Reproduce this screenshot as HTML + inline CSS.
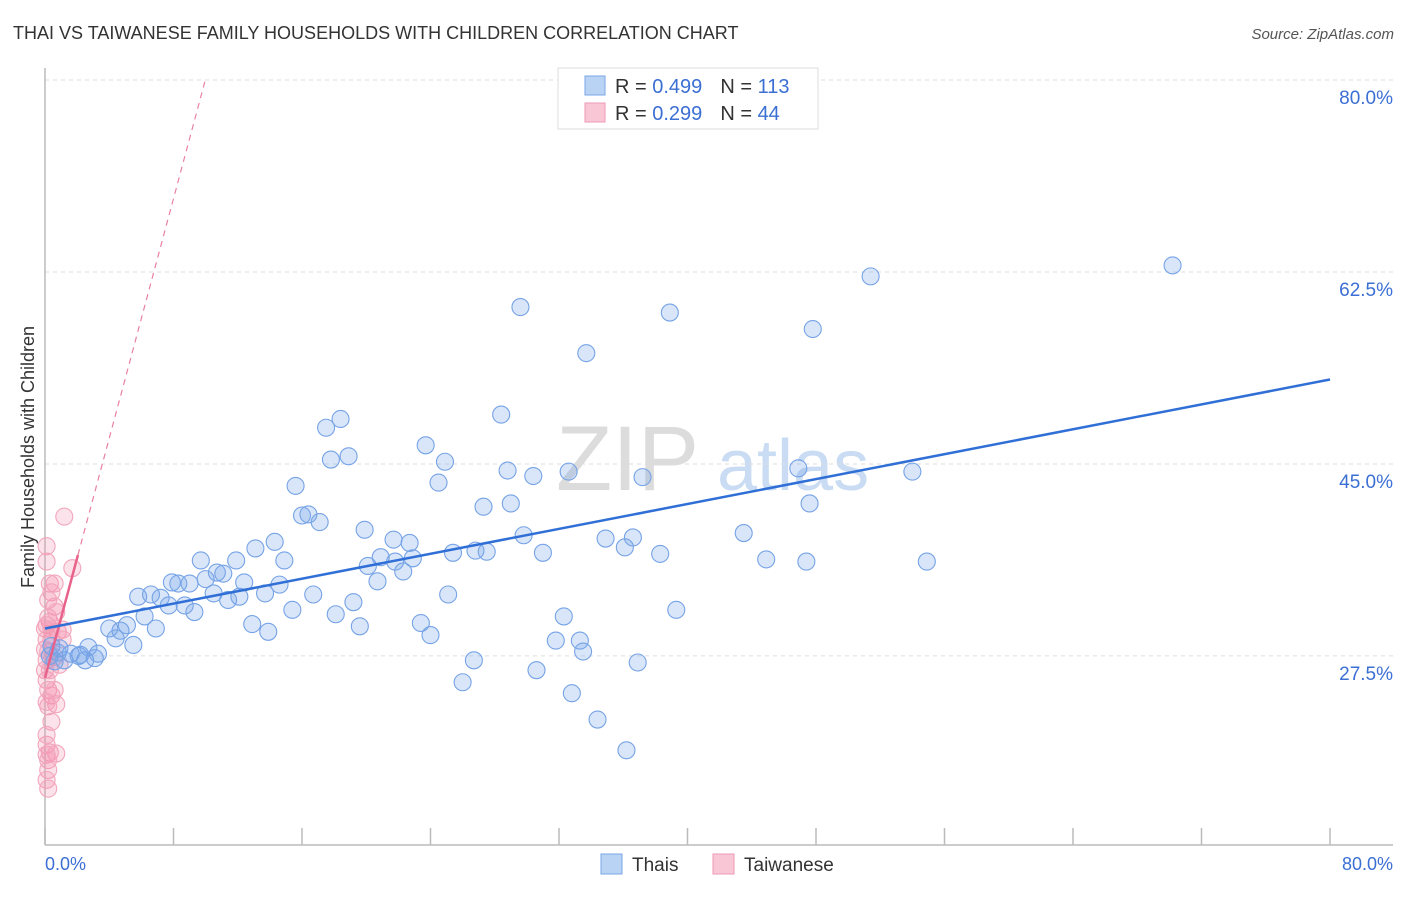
<!DOCTYPE html>
<html><head><meta charset="utf-8"><style>
body{margin:0;background:#fff;font-family:"Liberation Sans",sans-serif}
svg text{font-family:"Liberation Sans",sans-serif}
</style></head><body>
<svg id="chart" width="1406" height="892" viewBox="0 0 1406 892" xmlns="http://www.w3.org/2000/svg">
<text x="13" y="39" font-size="18" fill="#333">THAI VS TAIWANESE FAMILY HOUSEHOLDS WITH CHILDREN CORRELATION CHART</text>
<text x="1394" y="39" font-size="15" fill="#555" text-anchor="end" font-style="italic">Source: ZipAtlas.com</text>
<g>
<text x="556" y="490" font-size="92" fill="#dcdcdc" font-family="Liberation Serif">ZIP</text>
<text x="717" y="490" font-size="72" fill="#c9dcf3">atlas</text>
</g>
<g id="grid"></g>
<g id="yticks"></g>
<g id="xaxis"></g>
<line x1="45" y1="68" x2="45" y2="845" stroke="#bbb" stroke-width="1.5"/>
<text transform="translate(34,457) rotate(-90)" font-size="18" fill="#333" text-anchor="middle">Family Households with Children</text>
<g id="pinkPts"></g>
<g id="bluePts"></g>
<g id="trends"></g>
<g>
<rect x="558" y="68" width="260" height="61" fill="#fff" stroke="#ddd"/>
<rect x="585" y="76" width="20" height="19" fill="#b9d3f5" stroke="#7aa6e6"/>
<rect x="585" y="103" width="20" height="19" fill="#f9c6d5" stroke="#ee9ab4"/>
<text x="615" y="93" font-size="20" fill="#333">R = <tspan fill="#3b6fd4">0.499</tspan><tspan dx="18">N = </tspan><tspan fill="#3b6fd4">113</tspan></text>
<text x="615" y="120" font-size="20" fill="#333">R = <tspan fill="#3b6fd4">0.299</tspan><tspan dx="18">N = </tspan><tspan fill="#3b6fd4"> 44</tspan></text>
</g>
<g>
<rect x="601" y="854" width="21" height="20" fill="#b9d3f5" stroke="#7aa6e6"/>
<text x="632" y="871" font-size="19" fill="#333">Thais</text>
<rect x="713" y="854" width="21" height="20" fill="#f9c6d5" stroke="#ee9ab4"/>
<text x="744" y="871" font-size="19" fill="#333">Taiwanese</text>
</g>
</svg>
<script>
const yTicks=[80,62.5,45,27.5];
const yTickLabels=["80.0%","62.5%","45.0%","27.5%"];
const xTicks=[0,8,16,24,32,40,48,56,64,72,80];
const blueX=[70.2,51.4,29.6,38.9,47.8,33.7,28.4,18.4,17.5,23.7,18.9,17.8,24.9,28.8,30.4,32.6,37.2,46.9,54.0,24.5,15.6,27.3,29.0,47.6,16.0,16.4,17.1,19.9,29.8,43.5,21.7,34.9,36.6,22.7,36.1,26.8,27.5,25.4,31.0,38.3,13.1,14.3,9.7,11.9,14.9,20.9,20.1,21.8,22.9,22.3,44.9,47.4,54.9,10.7,11.1,12.4,8.3,7.9,9.0,10.0,14.6,20.7,5.8,6.6,7.2,7.7,8.7,9.3,10.5,11.4,12.1,13.7,16.7,19.2,25.1,15.4,18.1,32.3,39.3,6.2,5.1,4.0,4.7,4.4,6.9,12.9,13.9,19.6,23.4,24.0,31.8,33.3,33.5,5.5,2.7,3.1,2.1,1.2,0.8,0.6,1.6,2.2,3.3,26.7,30.6,36.9,26.0,32.8,34.4,36.2,0.3,0.9,0.4,2.5];
const blueY=[63.1,62.1,59.3,58.8,57.3,55.1,49.5,49.1,48.3,46.7,45.7,45.4,45.2,44.4,43.9,44.3,43.8,44.6,44.3,43.3,43.0,41.1,41.4,41.4,40.3,40.4,39.7,39.0,38.5,38.7,38.1,38.2,38.3,37.8,37.4,37.1,37.0,36.9,36.9,36.8,37.3,37.9,36.2,36.2,36.2,36.5,35.7,36.1,36.4,35.2,36.3,36.1,36.1,35.1,35.0,34.2,34.1,34.2,34.1,34.5,34.0,34.3,32.9,33.1,32.8,32.1,32.1,31.5,33.2,32.6,32.9,33.2,33.1,32.4,33.1,31.7,31.3,31.1,31.7,31.1,30.3,30.0,29.8,29.1,30.0,30.4,29.7,30.2,30.5,29.4,28.9,28.9,27.9,28.5,28.3,27.3,27.5,27.1,27.8,27.0,27.7,27.6,27.7,27.1,26.2,26.9,25.1,24.1,21.7,18.9,27.5,28.2,28.4,27.1];
const pinkX=[1.2,0.1,0.1,1.7,0.3,0.6,0.4,0.6,0.2,0.3,0.8,1.1,0.1,0.0,0.4,0.2,0.6,0.1,0.0,0.1,0.2,0.4,0.7,0.2,0.1,0.1,0.3,0.7,0.1,0.2,0.2,0.1,0.2,1.1,0.3,0.6,0.2,0.7,0.0,0.9,0.4,0.1,0.4,0.1];
const pinkY=[40.2,37.5,36.1,35.5,34.1,34.1,33.3,32.0,31.0,30.6,29.7,29.9,30.3,30.0,29.0,27.9,27.4,27.1,26.2,25.3,24.4,23.9,23.1,22.9,23.3,19.4,18.7,18.6,18.5,18.0,17.1,16.2,15.4,29.0,26.2,24.4,32.6,31.5,28.1,26.7,29.9,29.0,21.5,20.3];
const blueTrend=[0,30.0,80,52.7];
const pinkTrend=[0,25.5,2.05,36.7,9.98,80];
const X=v=>45+v/80*1285;
const Y=v=>80+(80-v)*10.97;
const NS="http://www.w3.org/2000/svg";
function mk(tag,attrs,parent){const e=document.createElementNS(NS,tag);for(const k in attrs)e.setAttribute(k,attrs[k]);parent.appendChild(e);return e;}
const grid=document.getElementById('grid'),yt=document.getElementById('yticks'),xa=document.getElementById('xaxis');
yTicks.forEach((t,i)=>{
 const l=mk('line',{x1:45,x2:1393,y1:Y(t),y2:Y(t),stroke:'#ddd','stroke-dasharray':'4,4'},grid);
 
 
 const tx=mk('text',{x:1393,y:Y(t)+24,'font-size':19,fill:'#3b6fd4','text-anchor':'end'},yt);
 tx.textContent=yTickLabels[i];
 
 
});
const ax=mk('line',{x1:45,x2:1393,y1:845,y2:845,stroke:'#bbb','stroke-width':1.5},xa);


xTicks.forEach(t=>{
 const l=mk('line',{x1:X(t),x2:X(t),y1:828,y2:845,stroke:'#bbb','stroke-width':1.5},xa);
 
 
});
const x0=mk('text',{x:45,y:870,'font-size':18,fill:'#3b6fd4'},xa);x0.textContent='0.0%';


const x1=mk('text',{x:1393,y:870,'font-size':18,fill:'#3b6fd4','text-anchor':'end'},xa);x1.textContent='80.0%';


const pg=document.getElementById('pinkPts');
pinkX.forEach((v,i)=>{
 const c=mk('circle',{cx:X(v),cy:Y(pinkY[i]),r:8.5,fill:'rgba(244,140,170,0.25)',stroke:'#f2a6bc','stroke-width':1.1},pg);
 
 
});
const bg=document.getElementById('bluePts');
blueX.forEach((v,i)=>{
 const c=mk('circle',{cx:X(v),cy:Y(blueY[i]),r:8.5,fill:'rgba(120,165,235,0.28)',stroke:'#76a3e6','stroke-width':1.1},bg);
 
 
});
const tg=document.getElementById('trends');
const pd=mk('line',{x1:X(pinkTrend[2]),y1:Y(pinkTrend[3]),x2:X(pinkTrend[4]),y2:Y(pinkTrend[5]),stroke:'#e8819f','stroke-width':1.2,'stroke-dasharray':'6,5'},tg);


const ps=mk('line',{x1:X(pinkTrend[0]),y1:Y(pinkTrend[1]),x2:X(pinkTrend[2]),y2:Y(pinkTrend[3]),stroke:'#e8638b','stroke-width':2.5},tg);


const bl=mk('line',{x1:X(blueTrend[0]),y1:Y(blueTrend[1]),x2:X(blueTrend[2]),y2:Y(blueTrend[3]),stroke:'#2f6fd6','stroke-width':2.5},tg);


</script>
</body></html>
